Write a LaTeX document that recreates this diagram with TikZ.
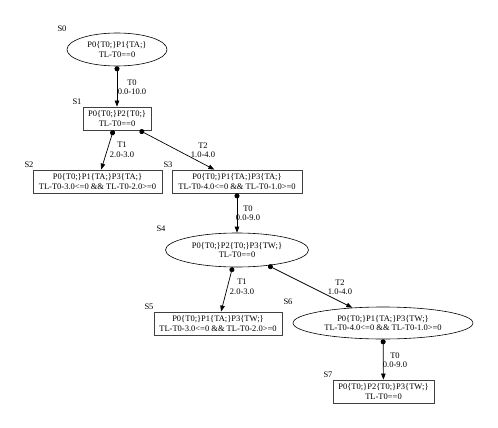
\documentclass[tikz,border=0pt]{standalone}
\usepackage{fontspec}
\setmainfont{Liberation Serif}
\usetikzlibrary{shapes.geometric,arrows.meta}
\begin{document}
\begin{tikzpicture}[x=1pt,y=-1pt,
  every node/.style={font=\fontsize{8.5}{9.5}\selectfont},
  st/.style={draw=black!75, line width=0.8pt, inner sep=0pt, minimum height=23pt, align=center},
  el/.style={draw=black, line width=0.6pt, ellipse, inner sep=0pt, align=center},
  lab/.style={inner sep=0pt},
  elab/.style={inner sep=0pt, align=center},
  tr/.style={draw=black, line width=0.7pt, {Circle[length=5pt,width=5pt]}-{Triangle[length=6pt,width=4.5pt]}}
]
\useasboundingbox (0,0) rectangle (498,428);
\node[el, minimum width=100pt, minimum height=33pt] (S0) at (117,49.5) {P0\{T0;\}P1\{TA;\}\\TL-T0==0};
\node[st, minimum width=68pt] (S1) at (117,118.5) {P0\{T0;\}P2\{T0;\}\\TL-T0==0};
\node[st, minimum width=129pt] (S2) at (97.5,181.5) {P0\{T0;\}P1\{TA;\}P3\{TA;\}\\TL-T0-3.0<=0 \&\& TL-T0-2.0>=0};
\node[st, minimum width=130pt] (S3) at (237,181.5) {P0\{T0;\}P1\{TA;\}P3\{TA;\}\\TL-T0-4.0<=0 \&\& TL-T0-1.0>=0};
\node[el, minimum width=143pt, minimum height=34pt] (S4) at (237,250) {P0\{T0;\}P2\{T0;\}P3\{TW;\}\\TL-T0==0};
\node[st, minimum width=128pt] (S5) at (218,323.5) {P0\{T0;\}P1\{TA;\}P3\{TW;\}\\TL-T0-3.0<=0 \&\& TL-T0-2.0>=0};
\node[el, minimum width=180pt, minimum height=32pt] (S6) at (383,323) {P0\{T0;\}P1\{TA;\}P3\{TW;\}\\TL-T0-4.0<=0 \&\& TL-T0-1.0>=0};
\node[st, minimum width=101pt] (S7) at (383.5,391.5) {P0\{T0;\}P2\{T0;\}P3\{TW;\}\\TL-T0==0};

\node[lab] (L0) at (62,29) {S0};
\node[lab] (L1) at (77,102) {S1};
\node[lab] (L2) at (29,165) {S2};
\node[lab] (L3) at (168,165) {S3};
\node[lab] (L4) at (161,229) {S4};
\node[lab] (L5) at (149,307) {S5};
\node[lab] (L6) at (288,302) {S6};
\node[lab] (L7) at (328,375) {S7};

\draw[tr] (S0) -- (S1);
\draw[tr] (S1) -- (S2);
\draw[tr] (S1) -- (S3);
\draw[tr] (S3) -- (S4);
\draw[tr] (S4) -- (S5);
\draw[tr] (S4) -- (S6);
\draw[tr] (S6) -- (S7);

\node[elab] (E01) at (132,87) {T0\\0.0-10.0};
\node[elab] (E12) at (122,150) {T1\\2.0-3.0};
\node[elab] (E13) at (203,150) {T2\\1.0-4.0};
\node[elab] (E34) at (248,213) {T0\\0.0-9.0};
\node[elab] (E45) at (242,287) {T1\\2.0-3.0};
\node[elab] (E46) at (340,287) {T2\\1.0-4.0};
\node[elab] (E67) at (395,360) {T0\\0.0-9.0};
\end{tikzpicture}
\end{document}
